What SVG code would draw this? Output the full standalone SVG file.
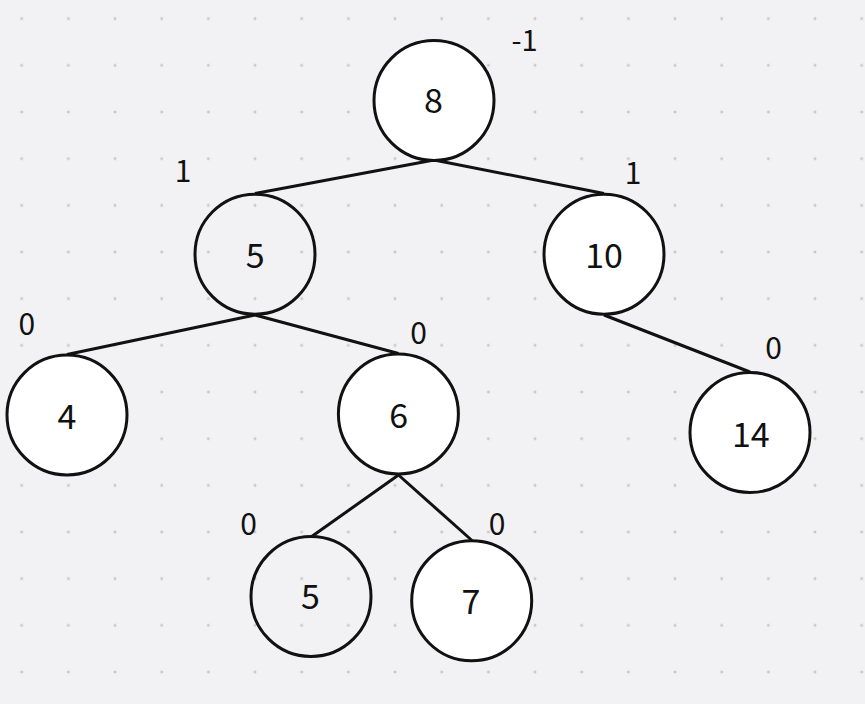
<svg xmlns="http://www.w3.org/2000/svg" width="865" height="704" viewBox="0 0 865 704">
<defs>
<pattern id="dots" patternUnits="userSpaceOnUse" x="21.67" y="18.67" width="46.667" height="46.667">
<rect x="-1.3" y="-1.3" width="2.6" height="2.6" fill="#c8c8ca"/>
<rect x="45.367" y="-1.3" width="2.6" height="2.6" fill="#c8c8ca"/>
<rect x="-1.3" y="45.367" width="2.6" height="2.6" fill="#c8c8ca"/>
<rect x="45.367" y="45.367" width="2.6" height="2.6" fill="#c8c8ca"/>
</pattern>
<style>
.n{stroke:#111;stroke-width:3}
.w{fill:#ffffff}
.t{fill:none}
.v{font-family:"Noto Sans CJK SC","Noto Sans",sans-serif;font-size:34px;fill:#111;text-anchor:middle}
.b{font-family:"Noto Sans CJK SC","Noto Sans",sans-serif;font-size:30px;fill:#111;text-anchor:middle}
.e{stroke:#111;stroke-width:3;fill:none}
</style>
</defs>
<rect width="865" height="704" fill="#f2f2f4"/>
<rect width="865" height="704" fill="url(#dots)"/>
<g id="connectors">
<line class="e" x1="434" y1="160" x2="255" y2="193.5"/>
<line class="e" x1="434" y1="160" x2="604" y2="193.5"/>
<line class="e" x1="255" y1="315" x2="67" y2="354.5"/>
<line class="e" x1="255" y1="315" x2="398.5" y2="353.5"/>
<line class="e" x1="604" y1="315" x2="750" y2="372"/>
<line class="e" x1="398.5" y1="475" x2="311" y2="537"/>
<line class="e" x1="398.5" y1="475" x2="472" y2="540.5"/>
</g>
<g id="node8"><circle class="n w" cx="434" cy="100.5" r="60"/><text class="v" x="433.5" y="113">8</text></g>
<g id="node5a"><circle class="n t" cx="255" cy="254.2" r="60"/><text class="v" x="255.3" y="268.3">5</text></g>
<g id="node10"><circle class="n w" cx="604" cy="254.2" r="60"/><text class="v" x="604" y="268.3">10</text></g>
<g id="node4"><circle class="n w" cx="67" cy="415" r="60"/><text class="v" x="67" y="429.3">4</text></g>
<g id="node6"><circle class="n w" cx="398.4" cy="414" r="60"/><text class="v" x="398.7" y="428.3">6</text></g>
<g id="node14"><circle class="n w" cx="750" cy="432.5" r="60"/><text class="v" x="750.8" y="446.7">14</text></g>
<g id="node5b"><circle class="n t" cx="311" cy="596.5" r="60"/><text class="v" x="310.5" y="609.3">5</text></g>
<g id="node7"><circle class="n w" cx="471.7" cy="600.8" r="60"/><text class="v" x="471" y="614">7</text></g>
<g id="labels">
<text class="b" x="524.5" y="51" style="font-size:29px">-1</text>
<text class="b" x="183" y="182.3">1</text>
<text class="b" x="633" y="184">1</text>
<text class="b" x="26.8" y="335">0</text>
<text class="b" x="418.7" y="344.3">0</text>
<text class="b" x="773.5" y="359">0</text>
<text class="b" x="248.5" y="535">0</text>
<text class="b" x="497" y="535">0</text>
</g>
</svg>
